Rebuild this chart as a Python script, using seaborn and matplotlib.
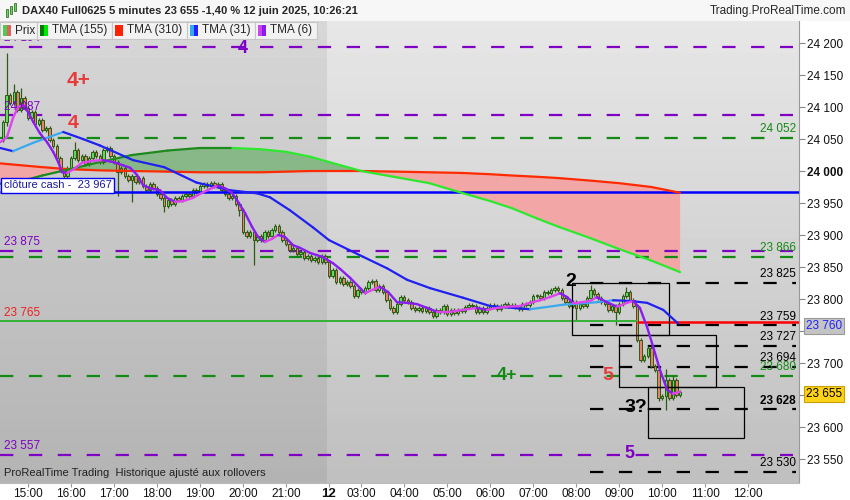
import numpy as np
import pandas as pd
import seaborn as sns
import matplotlib.pyplot as plt
from matplotlib.patches import Rectangle

# 5 minute bars: bar 0 = 11 juin 14:25, bar 91 = 12 juin 02:15, bar 189 = 10:25
first_open = 24048
closes = [24077, 24119, 24106, 24123, 24095, 24114, 24098, 24083, 24092, 24074,
          24080, 24064, 24067, 24048, 24039, 24020, 24002, 23992, 24005, 24020,
          24033, 24017, 24023, 24011, 24020, 24030, 24023, 24014, 24033, 24036,
          24023, 24014, 23998, 24005, 23992, 23986, 23992, 23983, 23989, 23977,
          23970, 23980, 23973, 23964, 23958, 23945, 23955, 23948, 23958, 23955,
          23961, 23964, 23961, 23970, 23967, 23977, 23980, 23977, 23981, 23977,
          23980, 23970, 23964, 23958, 23961, 23948, 23939, 23905, 23898, 23905,
          23892, 23898, 23892, 23905, 23898, 23908, 23914, 23905, 23892, 23886,
          23877, 23880, 23870, 23873, 23864, 23867, 23861, 23864, 23858, 23867,
          23858,
          23836, 23845, 23827, 23833, 23823, 23827, 23820, 23805, 23814,
          23811, 23817, 23827, 23828, 23814, 23820, 23811, 23798, 23786, 23780,
          23792, 23803, 23798, 23795, 23786, 23783, 23786, 23781, 23786, 23780,
          23773, 23783, 23780, 23789, 23776, 23783, 23778, 23783, 23781, 23787,
          23790, 23789, 23780, 23786, 23780, 23786, 23790, 23789, 23784, 23789,
          23792, 23789, 23790, 23787, 23784, 23792, 23790, 23795, 23805, 23805,
          23802, 23811, 23809, 23814, 23817, 23814, 23802, 23795, 23789, 23795,
          23786, 23792, 23789, 23802, 23814, 23808, 23802, 23795, 23792, 23783,
          23789, 23780, 23792, 23805, 23811, 23798, 23789, 23736, 23705, 23711,
          23723, 23695, 23689, 23645, 23648, 23673, 23645, 23673, 23650, 23655]
# bars with a long wick: index -> (high, low)
long_wicks = {1: (24184, 24070), 3: (24136, None), 5: (24130, None), 17: (None, 23977),
              20: (24045, None), 32: (None, 23961), 36: (None, 23952), 45: (None, 23936),
              66: (None, 23930), 70: (None, 23853), 160: (None, 23767), 164: (23822, None),
              171: (None, 23759), 174: (23819, None), 183: (None, 23640),
              185: (23690, 23627), 187: (23680, None)}

# slow averages, read at common bar positions
slow_idx = [-1, 5, 11, 18, 27, 36, 46, 55, 64, 72, 79, 86, 91, 100, 110, 119, 128,
            136, 142, 149, 155, 164, 172, 181, 189]
tma310 = [24012, 24009, 24006, 24003, 24001, 24000, 23999, 23998, 23998, 23998, 23999,
          24000, 24000, 24000, 23999, 23998, 23997, 23995, 23993, 23991, 23989, 23985,
          23981, 23975, 23966]
tma155 = [23980, 23984, 23993, 24002, 24014, 24025, 24032, 24036, 24036, 24034, 24030,
          24022, 24014, 24000, 23990, 23981, 23966, 23953, 23942, 23926, 23913, 23895,
          23878, 23860, 23842]

tma31_idx = [-0.8, 2.8, 8.4, 16.8, 22.3, 27, 36.3, 45, 54, 63.4, 71, 74.5, 80, 86.5, 91,
             100.5, 107.2, 112.8, 119.2, 128.4, 136, 142.4, 147.1, 156.3, 165.8, 170.3,
             175, 179.8, 184.3, 188.4]
tma31 = [24036, 24031, 24044, 24061, 24050, 24040, 24017, 24006, 23982, 23970, 23965,
         23959, 23939, 23912, 23892, 23866, 23848, 23830, 23817, 23802, 23789, 23786,
         23784, 23791, 23795, 23798, 23797, 23794, 23783, 23762]

tma6_idx = [-0.8, 1.1, 2.8, 4.2, 5.6, 7.0, 8.4, 10.3, 12.3, 14.0, 15.4, 16.5, 17.9, 19.5,
            22.1, 25.1, 27.9, 30.7, 33.5, 35.5, 37.4, 39.1, 41.0, 43.8, 45.8, 48.0, 50.3,
            53.0, 55.6, 57.8, 60.0, 62.0, 63.9, 65.6, 67.6, 69.5, 71.2, 73.1, 75.1, 76.8,
            78.7, 81.0, 82.9, 85.7, 89.1, 92.1, 94.1, 96.9, 99.7, 101.1, 103.0, 105.2,
            107.5, 110.0, 112.8, 115.6, 118.4, 121.2, 124.8, 128.4, 132.3, 135.1, 137.9,
            140.7, 144.3, 147.1, 149.9, 152.7, 155.5, 157.5, 159.1, 160.2, 163.9, 165.8,
            168.6, 171.4, 174.2, 175.9, 177.8, 179.8, 181.5, 183.4, 185.4, 187.0, 189.0]
tma6 = [24045, 24053, 24083, 24100, 24103, 24092, 24077, 24059, 24045, 24030, 24014,
        23998, 23997, 24002, 24013, 24016, 24017, 24014, 24009, 24005, 23994, 23978,
        23973, 23970, 23958, 23952, 23953, 23958, 23966, 23972, 23977, 23973, 23966,
        23952, 23934, 23913, 23897, 23889, 23894, 23900, 23897, 23884, 23880, 23872,
        23866, 23856, 23847, 23833, 23817, 23809, 23814, 23819, 23811, 23795, 23794,
        23792, 23786, 23780, 23780, 23783, 23786, 23783, 23786, 23788, 23789, 23794,
        23798, 23803, 23809, 23803, 23794, 23794, 23797, 23803, 23795, 23788, 23794,
        23797, 23786, 23756, 23725, 23689, 23658, 23652, 23655]

purple_levels = [24194, 24087, 23875, 23557]
purple_labels = ['24 194', '24 087', '23 875', '23 557']
green_levels = [24052, 23866, 23680]
green_labels = ['24 052', '23 866', '23 680']
black_levels = [23825, 23759, 23727, 23694, 23628, 23530]
black_labels = ['23 825', '23 759', '23 727', '23 694', '23 628', '23 530']
cash_close = 23967
ref_level = 23765
last_price = 23655
last_tma31 = 23760

tick_idx = [7, 19, 31, 43, 55, 67, 79, 91, 100, 112, 124, 136, 148, 160, 172, 184, 196, 208]
tick_labels = ['15:00', '16:00', '17:00', '18:00', '19:00', '20:00', '21:00', '12',
               '03:00', '04:00', '05:00', '06:00', '07:00', '08:00', '09:00', '10:00',
               '11:00', '12:00']

W, H = 850, 500
XMIN, XMAX = -0.84, 222.2
YMIN, YMAX = 23512.5, 24234.4


def fx(x):
    return x / W


def fy(y):
    return 1 - y / H


def fmt(v):
    return f'{int(v) // 1000} {int(v) % 1000:03d}'


sns.set_style('white')
plt.rcParams['font.family'] = ['Liberation Sans', 'DejaVu Sans']

fig = plt.figure(figsize=(8.5, 5), dpi=100)
fig.patch.set_facecolor('white')
ax = fig.add_axes([0, 17 / H, 799 / W, 462 / H])
ax.set_xlim(XMIN, XMAX)
ax.set_ylim(YMIN, YMAX)

# background: day 11 darker than day 12
grad = np.linspace(0, 1, 100).reshape(-1, 1)
ax.imshow(0.843 - 0.14 * grad, cmap='gray', vmin=0, vmax=1, aspect='auto',
          extent=[XMIN, 90.5, YMIN, YMAX], zorder=0)
ax.imshow(0.905 - 0.155 * grad, cmap='gray', vmin=0, vmax=1, aspect='auto',
          extent=[90.5, XMAX, YMIN, YMAX], zorder=0)

# cloud between the slow averages
s155 = np.array(tma155)
s310 = np.array(tma310)
ax.fill_between(slow_idx, s155, s310, where=s155 >= s310, interpolate=True,
                color='#88b888', lw=0, zorder=1)
ax.fill_between(slow_idx, s155, s310, where=s155 < s310, interpolate=True,
                color='#f3a6a6', lw=0, zorder=1)

# horizontal levels
dash = (0, (6, 7))
for lv in purple_levels:
    ax.hlines(lv, XMIN, 220.6, color='#7f00c4', lw=1.6, linestyles=[dash], zorder=2)
for lv in green_levels:
    ax.hlines(lv, XMIN, 220.6, color='#138a13', lw=1.6, linestyles=[dash], zorder=2)
for lv in black_levels:
    ax.hlines(lv, 163.9, 221.5, color='black', lw=1.6, linestyles=[dash], zorder=2)
ax.hlines(cash_close, XMIN, XMAX, color='#0000ff', lw=1.8, zorder=4)
ax.hlines(ref_level, XMIN, 177, color='#33b233', lw=1.4, zorder=4)
ax.hlines(ref_level - 1, 177, XMAX, color='#ff0000', lw=1.8, zorder=4)

# boxes
for i0, i1, top, bot in [(158.8, 185.9, 23825, 23743), (172.0, 199.1, 23743, 23662),
                         (180.1, 206.9, 23662, 23583)]:
    ax.add_patch(Rectangle((i0, bot), i1 - i0, top - bot, fill=False, ec='black',
                           lw=0.9, zorder=5))

# candles
df = pd.DataFrame({'close': closes})
df['open'] = [first_open] + closes[:-1]
df['high'] = df[['open', 'close']].max(axis=1) + 3
df['low'] = df[['open', 'close']].min(axis=1) - 3
for k, (hi, lo) in long_wicks.items():
    if hi is not None:
        df.loc[k, 'high'] = hi
    if lo is not None:
        df.loc[k, 'low'] = lo
df['idx'] = np.arange(len(df))
up = df['close'] >= df['open']
ax.vlines(df['idx'], df['low'], df['high'], color='#2d5a14', lw=0.9, zorder=3)
body = (df['close'] - df['open']).abs().clip(lower=1.8)
ax.bar(df['idx'], body, bottom=df[['open', 'close']].min(axis=1), width=0.68,
       color=np.where(up, '#5fdc5f', '#e8806a'), edgecolor='#2d5a14', lw=0.7, zorder=3)


def slope_line(xs, ys, c_up, c_dn, lw):
    for a in range(len(xs) - 1):
        c = c_up if ys[a + 1] >= ys[a] else c_dn
        ax.plot(xs[a:a + 2], ys[a:a + 2], color=c, lw=lw, solid_capstyle='round', zorder=6)


sns.lineplot(x=slow_idx, y=tma310, color='#ff2a00', lw=1.6, ax=ax, zorder=6)
slope_line(slow_idx, tma155, '#1c8a1c', '#2ee82e', 1.6)
slope_line(tma31_idx, tma31, '#39a9ee', '#2020f0', 1.6)
slope_line(tma6_idx, tma6, '#dd44ee', '#8a1cf0', 1.7)

# wave labels
ax.text(67, 24192, '4', color='#7f00c4', fontsize=13, fontweight='bold', ha='center',
        va='center', zorder=7)
ax.text(21, 24142, '4+', color='#e83a3a', fontsize=15, fontweight='bold', ha='center',
        va='center', zorder=7)
ax.text(19.5, 24075, '4', color='#e83a3a', fontsize=14, fontweight='bold', ha='center',
        va='center', zorder=7)
ax.text(158.6, 23828, '2', color='black', fontsize=14, fontweight='bold', ha='center',
        va='center', zorder=7)
ax.text(168.9, 23680, '5', color='#e83a3a', fontsize=14, fontweight='bold', ha='center',
        va='center', zorder=7)
ax.text(140.7, 23680, '4+', color='#138a13', fontsize=13, fontweight='bold', ha='center',
        va='center', zorder=7)
ax.text(176.7, 23631, '3?', color='black', fontsize=14, fontweight='bold', ha='center',
        va='center', zorder=7)
ax.text(175, 23559, '5', color='#7f00c4', fontsize=13, fontweight='bold', ha='center',
        va='center', zorder=7)

# level labels
for lv, lb in zip(purple_levels, purple_labels):
    ax.text(0.2, lv + 4, lb, color='#7f00c4', fontsize=8.5, va='bottom', zorder=7)
ax.text(0.2, ref_level + 4, fmt(ref_level), color='#ee2020', fontsize=8.5, va='bottom', zorder=7)
for lv, lb in zip(green_levels, green_labels):
    ax.text(221.3, lv + 4, lb, color='#138a13', fontsize=8.5, ha='right', va='bottom', zorder=7)
for lv, lb in zip(black_levels, black_labels):
    ax.text(221.3, lv + 4, lb, color='black', fontsize=8.5, ha='right', va='bottom', zorder=7,
            fontweight='bold' if lv == 23628 else 'normal')
ax.text(0.2, cash_close + 3, 'clôture cash -  ' + fmt(cash_close), color='#1a1a9a',
        fontsize=8, va='bottom', zorder=8,
        bbox=dict(boxstyle='square,pad=0.22', fc='white', ec='#0000ff', lw=1))
ax.text(0.2, 23520, 'ProRealTime Trading  Historique ajusté aux rollovers', color='#222222',
        fontsize=8, va='bottom', zorder=8)

# axes; the 23 750 and 23 650 labels sit under the value boxes
ax.yaxis.tick_right()
yt = list(range(23550, 24201, 50))
ax.set_yticks(yt, ['' if v in (23750, 23650) else fmt(v) for v in yt])
for t, v in zip(ax.get_yticklabels(), yt):
    if v == 24000:
        t.set_fontweight('bold')
ax.tick_params(axis='y', right=True, length=4, width=0.8, color='#888888', pad=2,
               labelsize=8.5, labelcolor='#111111')
ax.set_xticks(tick_idx, tick_labels)
ax.tick_params(axis='x', bottom=True, length=3, width=0.8, color='#999999', pad=0.5,
               labelsize=8.5, labelcolor='#111111')
for t in ax.get_xticklabels():
    if t.get_text() == '12':
        t.set_fontweight('bold')
        t.set_fontsize(9.5)
for side in ['top', 'left']:
    ax.spines[side].set_visible(False)
ax.spines['right'].set_color('#999999')
ax.spines['bottom'].set_color('#bbbbbb')
ax.set_xlabel('')
ax.set_ylabel('')

fig.text(fx(806), fy(326), fmt(last_tma31), color='#2020ff', fontsize=8.5, va='center',
         bbox=dict(boxstyle='square,pad=0.15', fc='#c4c4c4', ec='#9a9a9a', lw=0.8))
fig.text(fx(806), fy(394), fmt(last_price), color='black', fontsize=8.5, va='center',
         bbox=dict(boxstyle='square,pad=0.15', fc='#ffd21a', ec='#c8a000', lw=0.8))

# header
fig.patches.append(Rectangle((0, fy(21)), 1, 21 / H, transform=fig.transFigure,
                             fc='#f7f7f7', ec='none', zorder=0))
for cx, y0, y1 in [(7, 9, 17), (11, 6, 14), (15, 3, 11)]:
    fig.patches.append(Rectangle((fx(cx - 1.2), fy(y1)), 2.4 / W, (y1 - y0) / H,
                                 transform=fig.transFigure, fc='#5fdc5f', ec='#2d5a14', lw=0.5))
fig.text(fx(22), fy(11), 'DAX40 Full0625 5 minutes 23 655 -1,40 % 12 juin 2025, 10:26:21',
         fontsize=8, fontweight='bold', va='center')
fig.text(fx(846), fy(11), 'Trading.ProRealTime.com', fontsize=8.5, ha='right', va='center')

legend_items = [(0, 37, ['#4ccc4c', '#e06060'], 'Prix'),
                (37, 112, ['#007a00', '#00e600'], 'TMA (155)'),
                (112, 187, ['#ff2200', '#ff2200'], 'TMA (310)'),
                (187, 255, ['#33aaee', '#2222ff'], 'TMA (31)'),
                (255, 317, ['#cc44ee', '#8a1cf0'], 'TMA (6)')]
for x0, x1, cols, label in legend_items:
    fig.patches.append(Rectangle((fx(x0), fy(39)), (x1 - x0) / W, 17 / H,
                                 transform=fig.transFigure, fc='#f2f2f2', ec='#c6c6c6',
                                 lw=0.8, zorder=10))
    for n, c in enumerate(cols):
        fig.patches.append(Rectangle((fx(x0 + 3 + 4 * n), fy(36)), 4 / W, 11 / H,
                                     transform=fig.transFigure, fc=c, ec='none', zorder=11))
    fig.text(fx(x0 + 15), fy(30.5), label, fontsize=8.5, va='center', zorder=12)

fig.savefig('out.png', dpi=100)
